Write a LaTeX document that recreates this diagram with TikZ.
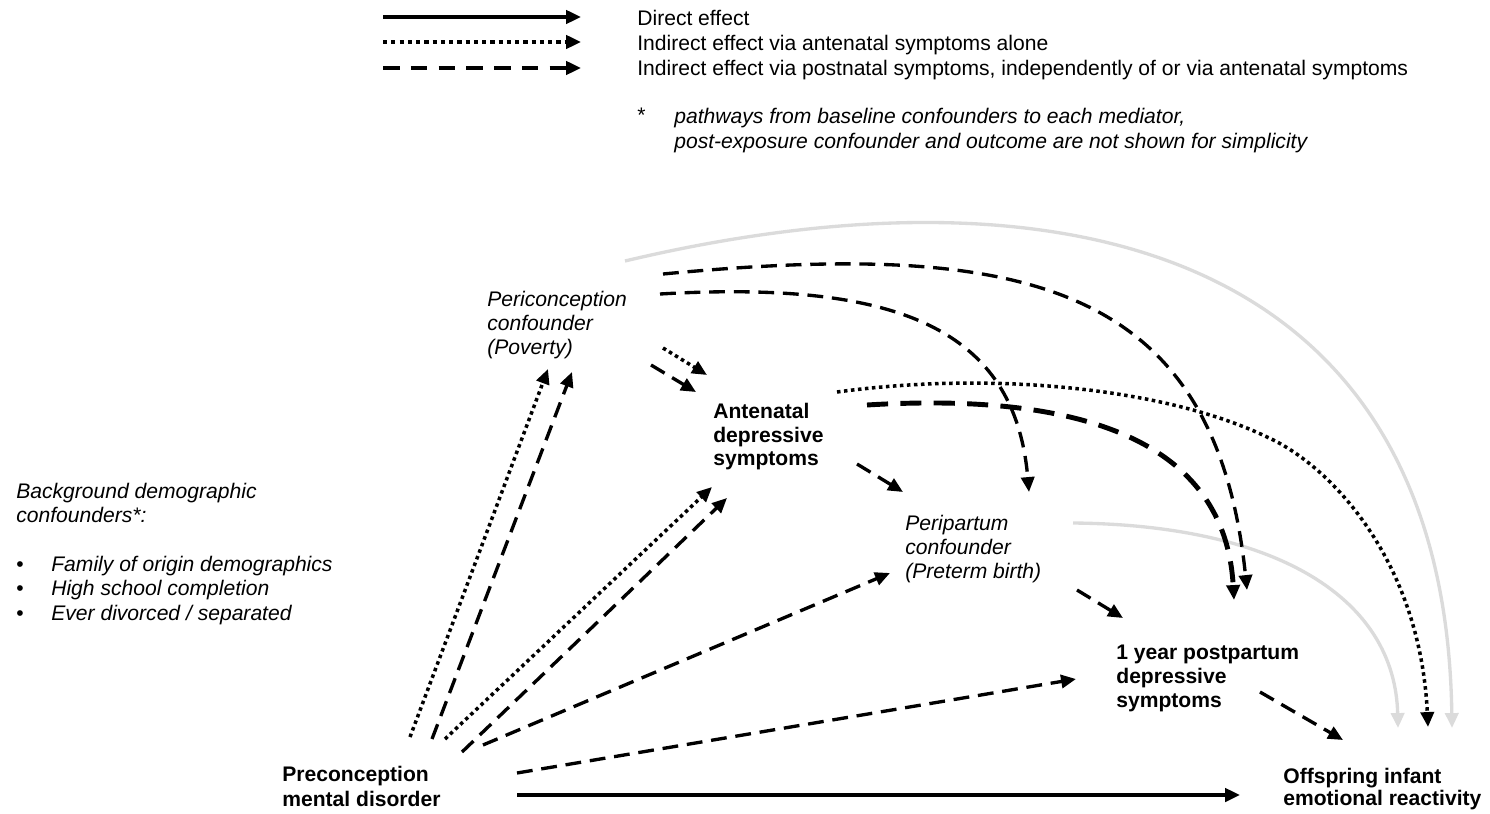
\documentclass[tikz,border=0pt]{standalone}
\usepackage{fontspec}
\setmainfont{Liberation Sans}
\usetikzlibrary{arrows.meta}

\tikzset{
  txt/.style={inner sep=0pt, anchor=north west, align=left, font=\fontsize{12}{14.2}\selectfont},
  varlbl/.style={txt, font=\bfseries\fontsize{12}{13.6}\selectfont},
  conflbl/.style={txt, font=\itshape\fontsize{12}{13.9}\selectfont},
  tip/.style={-{Triangle[length=8.5pt,width=7.5pt]}},
  direct/.style={tip, line width=2.6pt},
  viaante/.style={tip, line width=2pt, dash pattern=on 2pt off 2pt},
  viapost/.style={tip, line width=1.9pt, dash pattern=on 9pt off 5pt},
  viapostbig/.style={tip, line width=2.8pt, dash pattern=on 12pt off 7pt},
  notshown/.style={tip, line width=1.9pt, color=black!14}
}

\begin{document}
\begin{tikzpicture}[x=0.02cm, y=-0.02cm]
  \useasboundingbox (0,0) rectangle (1490,814);

  % legend
  \node[txt] (key) at (637,9.5) {Direct effect\\
    Indirect effect via antenatal symptoms alone\\
    Indirect effect via postnatal symptoms, independently of or via antenatal symptoms};
  \node[txt] (star) at (637,108) {*};
  \node[txt, font=\itshape\fontsize{12}{14.2}\selectfont] (note) at (674,107.5)
    {pathways from baseline confounders to each mediator,\\
     post-exposure confounder and outcome are not shown for simplicity};
  \coordinate (keyAs) at (383,17);  \coordinate (keyAe) at (581,17);
  \coordinate (keyBs) at (383,42);  \coordinate (keyBe) at (581,42);
  \coordinate (keyCs) at (383,68);  \coordinate (keyCe) at (581,68);
  \draw[direct] (keyAs) -- (keyAe);
  \draw[viaante, line width=2.4pt, dash pattern=on 2.4pt off 2.3pt] (keyBs) -- (keyBe);
  \draw[viapost, line width=2.3pt, dash pattern=on 9.5pt off 6.3pt] (keyCs) -- (keyCe);

  % background confounders
  \node[conflbl, font=\itshape\fontsize{12}{13.9}\selectfont] (bg) at (16,482.5)
    {Background demographic\\
     confounders*:\\[13.9pt]
     \makebox[0.7cm][l]{\upshape\textbullet}Family of origin demographics\\
     \makebox[0.7cm][l]{\upshape\textbullet}High school completion\\
     \makebox[0.7cm][l]{\upshape\textbullet}Ever divorced / separated};

  % variables
  \node[conflbl] (pericon) at (487,290.5) {Periconception\\confounder\\(Poverty)};
  \node[varlbl] (ante) at (713,402.5) {Antenatal\\depressive\\symptoms};
  \node[conflbl] (peri) at (905,514.5) {Peripartum\\confounder\\(Preterm birth)};
  \node[varlbl] (post) at (1116,644.5) {1 year postpartum\\depressive\\symptoms};
  \node[varlbl, font=\bfseries\fontsize{12}{14.2}\selectfont] (precon) at (282,765.5) {Preconception\\mental disorder};
  \node[varlbl, font=\bfseries\fontsize{12}{13}\selectfont] (off) at (1283,767.5) {Offspring infant\\emotional reactivity};

  % arrow ends
  \coordinate (pc1) at (410,737);  \coordinate (pc1e) at (548,369);
  \coordinate (pc2) at (432,739);  \coordinate (pc2e) at (572,372);
  \coordinate (pc3) at (445,739);  \coordinate (pc3e) at (712,487);
  \coordinate (pc4) at (462,752);  \coordinate (pc4e) at (727,498);
  \coordinate (pc5) at (483,745);  \coordinate (pc5e) at (890,573);
  \coordinate (pc6) at (517,773);  \coordinate (pc6e) at (1076,679);
  \coordinate (pc7) at (517,795);  \coordinate (pc7e) at (1240,795);
  \coordinate (pp1) at (663,348);  \coordinate (pp1e) at (707,375);
  \coordinate (pp2) at (651,365);  \coordinate (pp2e) at (696,392);
  \coordinate (pp3) at (660,294);  \coordinate (pp3e) at (1029,492);
  \coordinate (pp4) at (663,274);  \coordinate (pp4e) at (1247,590);
  \coordinate (pp5) at (625,261);  \coordinate (pp5e) at (1452,728);
  \coordinate (an1) at (857,464);  \coordinate (an1e) at (903,492);
  \coordinate (an2) at (867,405);  \coordinate (an2e) at (1234,600);
  \coordinate (an3) at (837,392);  \coordinate (an3e) at (1428,727);
  \coordinate (pr1) at (1077,590); \coordinate (pr1e) at (1123,618);
  \coordinate (pr2) at (1073,523); \coordinate (pr2e) at (1398,728);
  \coordinate (po1) at (1260,692); \coordinate (po1e) at (1343,740);

  % pathways not part of the effects
  \draw[notshown] (pp5) .. controls (1050,160) and (1445,240) .. (pp5e);
  \draw[notshown] (pr2) .. controls (1280,525) and (1395,600) .. (pr2e);

  % from preconception disorder
  \draw[viaante] (pc1) -- (pc1e);
  \draw[viapost] (pc2) -- (pc2e);
  \draw[viaante] (pc3) -- (pc3e);
  \draw[viapost] (pc4) -- (pc4e);
  \draw[viapost] (pc5) -- (pc5e);
  \draw[viapost] (pc6) -- (pc6e);
  \draw[direct] (pc7) -- (pc7e);

  % from periconception confounder
  \draw[viaante] (pp1) -- (pp1e);
  \draw[viapost] (pp2) -- (pp2e);
  \draw[viapost] (pp3) .. controls (900,280) and (1015,330) .. (pp3e);
  \draw[viapost] (pp4) .. controls (1020,240) and (1215,280) .. (pp4e);

  % from antenatal symptoms
  \draw[viapost] (an1) -- (an1e);
  \draw[viapostbig] (an2) .. controls (1080,392) and (1225,440) .. (an2e);
  \draw[viaante] (an3) .. controls (1000,370) and (1170,390) .. (1267,437)
    .. controls (1330,465) and (1420,560) .. (an3e);

  % from peripartum confounder and postpartum symptoms
  \draw[viapost] (pr1) -- (pr1e);
  \draw[viapost] (po1) -- (po1e);
\end{tikzpicture}
\end{document}
